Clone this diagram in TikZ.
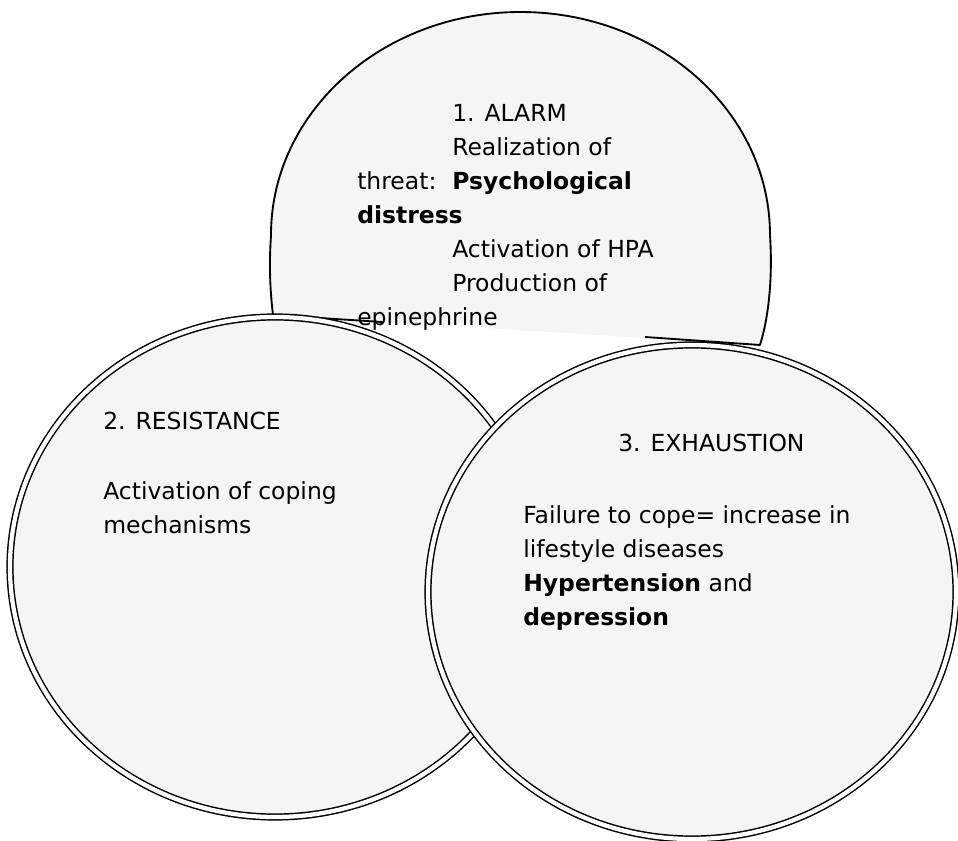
\documentclass[tikz,border=0pt]{standalone}
\usepackage{fontspec}
\setmainfont{DejaVu Sans}
\begin{document}
\begin{tikzpicture}[x=0.75pt,y=-0.75pt]
\tikzset{
  singleline/.style={draw=black, line width=1.4pt, line join=round},
  dblline/.style={draw=black, line width=1.1pt, double=white, double distance=3.2pt, fill=black!4},
  areafill/.style={fill=black!4},
  txt/.style={anchor=base west, inner sep=0pt, font=\fontsize{17.6}{21}\selectfont},
}
\useasboundingbox (0,0) rectangle (958,841);
\fill[white] (0,0) rectangle (958,841);
% circle 1 (ALARM)
\path[areafill] (273,315) .. controls (270,290) and (269,265) .. (271,235)
  arc[start angle=180, end angle=360, x radius=249.5, y radius=223]
  .. controls (773,280) and (768,320) .. (760,345) -- cycle;
\draw[singleline] (382,322) -- (273,315) .. controls (270,290) and (269,265) .. (271,235)
  arc[start angle=180, end angle=360, x radius=249.5, y radius=223]
  .. controls (773,280) and (768,320) .. (760,345) -- (645,337);
% circle 2 (RESISTANCE)
\draw[dblline] (275,567) ellipse[x radius=265, y radius=250];
% circle 3 (EXHAUSTION)
\draw[dblline] (692,592) ellipse[x radius=264, y radius=247];
% texts circle 1
\node[txt] (a0) at (452,122) {1. ALARM};
\node[txt] (a1) at (452,156) {Realization of};
\node[txt] (a2) at (357,190) {threat:};
\node[txt] (a2b) at (452,190) {\textbf{Psychological}};
\node[txt] (a3) at (357,224) {\textbf{distress}};
\node[txt] (a4) at (452,258) {Activation of HPA};
\node[txt] (a5) at (452,292) {Production of};
\node[txt] (a6) at (357,326) {epinephrine};
% texts circle 2
\node[txt] (b0) at (103,430) {2. RESISTANCE};
\node[txt] (b1) at (103,500) {Activation of coping};
\node[txt] (b2) at (103,534) {mechanisms};
% texts circle 3
\node[txt] (c0) at (618,452) {3. EXHAUSTION};
\node[txt] (c1) at (523,524) {Failure to cope= increase in};
\node[txt] (c2) at (523,558) {lifestyle diseases};
\node[txt] (c3) at (523,592) {\textbf{Hypertension} and};
\node[txt] (c4) at (523,626) {\textbf{depression}};
\end{tikzpicture}
\end{document}
